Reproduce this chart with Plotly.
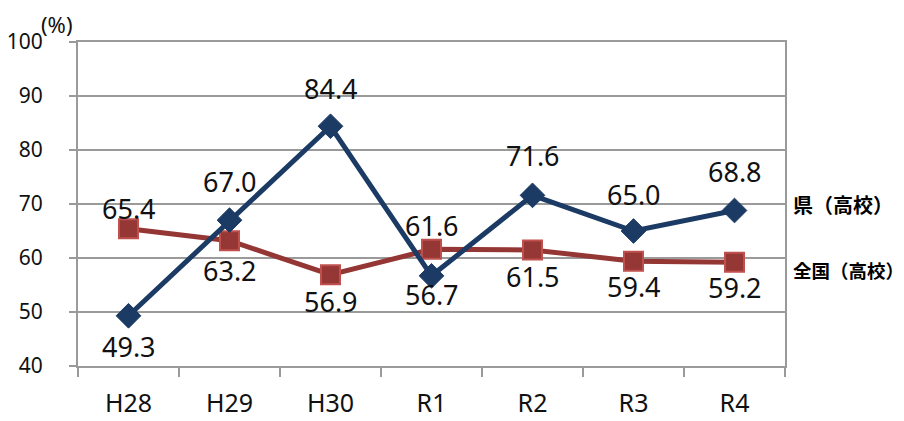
import plotly.graph_objects as go

categories = ["H28", "H29", "H30", "R1", "R2", "R3", "R4"]
ken_values = [49.3, 67.0, 84.4, 56.7, 71.6, 65.0, 68.8]
zenkoku_values = [65.4, 63.2, 56.9, 61.6, 61.5, 59.4, 59.2]
ken_label_text = [f"{v:.1f}" for v in ken_values]
zenkoku_label_text = [f"{v:.1f}" for v in zenkoku_values]
ken_name = "県（高校）"
zenkoku_name = "全国（高校）"
y_ticks = [40, 50, 60, 70, 80, 90, 100]

# label offsets in pixels (positive = above point)
ken_shift = [-31, 39, 38, -19, 40, 37, 39]
zen_shift = [20, -30, -27, 24, -27, -25, -25]

BLUE = "#1B3A64"
RED_LINE = "#943634"
RED_FILL = "#953735"
RED_EDGE = "#C0504D"
GRID = "#9A9A9A"
FONT = "Noto Sans"

fig = go.Figure()
fig.add_trace(go.Scatter(
    x=categories, y=zenkoku_values, mode="lines+markers", name=zenkoku_name,
    line=dict(color=RED_LINE, width=5),
    marker=dict(symbol="square", size=19, color=RED_FILL,
                line=dict(color=RED_EDGE, width=2)),
    cliponaxis=False,
))
fig.add_trace(go.Scatter(
    x=categories, y=ken_values, mode="lines+markers", name=ken_name,
    line=dict(color=BLUE, width=5),
    marker=dict(symbol="diamond", size=19, color=BLUE,
                line=dict(color=BLUE, width=1)),
    cliponaxis=False,
))

annotations = []
for c, v, t, s in zip(categories, ken_values, ken_label_text, ken_shift):
    annotations.append(dict(x=c, y=v, text=t, showarrow=False, yshift=s,
                            font=dict(family=FONT, size=27, color="#111111")))
for c, v, t, s in zip(categories, zenkoku_values, zenkoku_label_text, zen_shift):
    annotations.append(dict(x=c, y=v, text=t, showarrow=False, yshift=s,
                            font=dict(family=FONT, size=27, color="#111111")))

annotations.append(dict(xref="paper", yref="y", x=1.009, y=70, xanchor="left",
                        text=f"<b>{ken_name}</b>", showarrow=False,
                        font=dict(family="Noto Sans CJK JP", size=20, color="#000000")))
annotations.append(dict(xref="paper", yref="y", x=1.009, y=57.8, xanchor="left",
                        text=f"<b>{zenkoku_name}</b>", showarrow=False,
                        font=dict(family="Noto Sans CJK JP", size=18.5, color="#000000")))
annotations.append(dict(xref="paper", yref="paper", x=-0.055, y=1.0, yanchor="bottom",
                        xanchor="left", yshift=1,
                        text="(%)", showarrow=False,
                        font=dict(family=FONT, size=22, color="#111111")))

# the page body has an 8px margin, so the figure is 8px smaller and margins compensate
fig.update_layout(
    width=896, height=413,
    margin=dict(l=70, r=119, t=34, b=55),
    paper_bgcolor="white", plot_bgcolor="white",
    showlegend=False,
    font=dict(family=FONT, color="#111111"),
    annotations=annotations,
    xaxis=dict(
        type="category", range=[-0.5, 6.5], automargin=False,
        tickson="boundaries", ticks="outside", ticklen=9, tickwidth=2,
        tickcolor=GRID, showline=True, linecolor=GRID, linewidth=2,
        mirror=True, showgrid=False,
        tickfont=dict(family=FONT, size=25, color="#111111"),
        ticklabelstandoff=14,
    ),
    yaxis=dict(
        range=[40, 100], tickvals=y_ticks, ticks="outside", ticklen=7,
        automargin=False,
        tickwidth=2, tickcolor=GRID, showline=True, linecolor=GRID,
        linewidth=2, mirror=True, showgrid=True, gridcolor=GRID, gridwidth=2,
        zeroline=False,
        tickfont=dict(family=FONT, size=21, color="#111111"),
        ticklabelstandoff=22,
    ),
)

fig.write_html("out.html")
